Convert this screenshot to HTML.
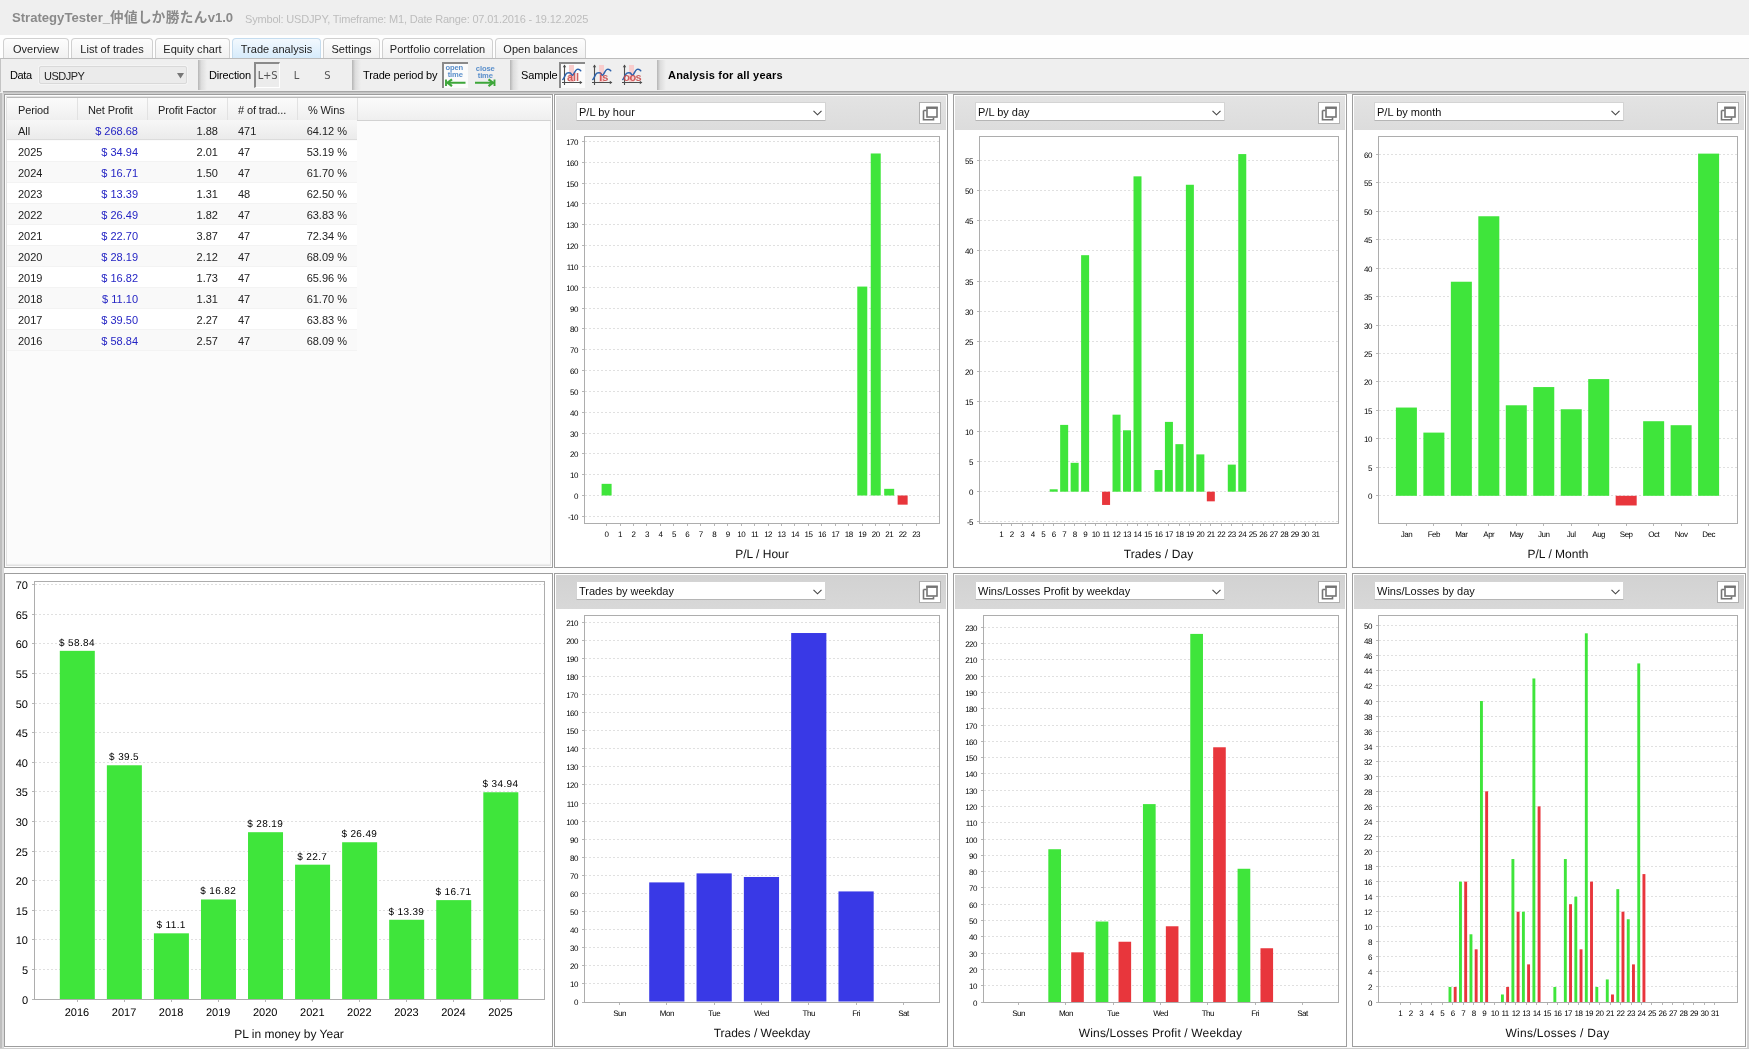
<!DOCTYPE html>
<html lang="ja">
<head>
<meta charset="utf-8">
<title>StrategyTester</title>
<style>
*{box-sizing:content-box;margin:0;padding:0}
html,body{width:1749px;height:1049px;overflow:hidden;background:#f0f0f0}
body{will-change:transform;position:relative;font-family:"Liberation Sans","Noto Sans CJK JP",sans-serif;font-size:11px;color:#111}
.abs{position:absolute}
#title{position:absolute;left:0;top:0;width:1749px;height:35px;background:#efefef}
#title b{position:absolute;left:12px;top:9px;font-size:13.1px;line-height:18px;color:#8a8a8a;white-space:nowrap}
#title b i{font-style:normal;font-size:13.6px;letter-spacing:.35px}
#title span{position:absolute;left:245px;top:11px;font-size:11px;line-height:16px;color:#bdbdbd;white-space:nowrap;letter-spacing:-.18px}
#tabs{position:absolute;left:0;top:35px;width:1749px;height:23px;background:#fefefe}
.tab{position:absolute;top:3px;height:19px;border:1px solid #d0d0d0;border-bottom:none;border-radius:4px 4px 0 0;background:linear-gradient(#fdfdfd,#f1f1f1);line-height:21px;text-align:center;font-size:11px;letter-spacing:.03px;color:#222;white-space:nowrap}
.tab.on{background:linear-gradient(#f3f9fe,#d6ebfb);border-color:#c5dcee}
#bar{position:absolute;left:0;top:58px;width:1747px;height:33px;background:#efefef;border-left:1px solid #c4c4c4;border-top:1px solid #bcbcbc;width:1748px}
#barb{position:absolute;left:3px;top:91px;width:1743px;height:1px;background:#a6a6a6}
#barb2{position:absolute;left:3px;top:92px;width:1743px;height:2px;background:linear-gradient(#bcbcbc,#d6d6d6)}
.lb{position:absolute;top:68px;line-height:14px;font-size:11px;letter-spacing:-.15px;color:#000;white-space:nowrap}
.sep{position:absolute;top:60px;width:9px;height:30px;background:linear-gradient(90deg,#b4b4b4,#dcdcdc 35%,#efefef)}
.tg{position:absolute;top:63px;height:24px;width:25px;line-height:26px;text-align:center;font-family:"DejaVu Sans","Liberation Sans",sans-serif;font-size:10px;color:#555}
.tg.on{top:62px;background:#ececec;border-top:2px solid #8a8a8a;border-left:2px solid #8a8a8a;border-right:1px solid #fff;border-bottom:1px solid #fff;height:23px;width:23px;line-height:24px;letter-spacing:-.2px}
.ic{position:absolute;top:63px;width:26px;height:25px}
.ic.on{background:#fbfbfb;box-shadow:inset 2px 1px 0 #8a8a8a,0 -1px 0 #8a8a8a}
.pan{position:absolute;border:1px solid #9d9d9d;background:#fff}
.hd{position:absolute;left:1px;top:1px;right:1px;height:34px;background:linear-gradient(#e3e3e3,#dcdcdc)}
.hd.dk{background:linear-gradient(#d2d2d2,#d8d8d8)}
.sel{position:absolute;left:20px;top:6px;width:248px;height:17px;background:#fff;border:1px solid #d4d4d4;border-bottom-color:#b5b5b5;border-radius:1px;font-size:11px;line-height:19px;color:#111}
.sel span{position:absolute;left:2px;top:0;white-space:nowrap}
.sel svg{position:absolute;right:3.5px;top:7px}
.pop{position:absolute;right:5px;top:6px;width:20px;height:20px;background:#fff;border:1px solid #b0b0b0}
.pop svg{position:absolute;left:2px;top:3px}
.ch{position:absolute;font-family:"Liberation Sans",sans-serif;shape-rendering:crispEdges}
.ch text{text-rendering:geometricPrecision}
.thbar{position:absolute;left:2px;top:2px;right:1px;height:22px;border-top:1px solid #b9b9b9;border-bottom:1px solid #d2d2d2;background:linear-gradient(#fbfbfb,#efefef)}
.th{position:absolute;top:3px;height:22px;line-height:24px;font-size:11px;color:#222;letter-spacing:-.12px;text-indent:10px;border-right:1px solid #e2e2e2;white-space:nowrap}
.tr{position:absolute;left:2px;width:350px;height:21px;line-height:22px;font-size:11px;color:#222;border-bottom:1px solid #f3f3f3;height:20px;background:#fff}
.tr.alt{background:#f9f9f9}
.tr.all{background:linear-gradient(#f7f7f7,#ebebeb);border-bottom-color:#dcdcdc;height:19px;line-height:22px}
.tr span{position:absolute;top:0;white-space:nowrap}
.c1{left:11px}.c2{right:219px;color:#2424c4}.c3{right:139px}.c4{left:231px}.c5{right:10px}
</style>
</head>
<body>
<div id="title"><b>StrategyTester_<i>仲値しか勝たん</i>v1.0</b><span>Symbol: USDJPY, Timeframe: M1, Date Range: 07.01.2016 - 19.12.2025</span></div>
<div id="tabs">
<div class="tab" style="left:3px;width:64px">Overview</div>
<div class="tab" style="left:71px;width:80px">List of trades</div>
<div class="tab" style="left:155px;width:73px">Equity chart</div>
<div class="tab on" style="left:232px;width:87px">Trade analysis</div>
<div class="tab" style="left:323px;width:55px">Settings</div>
<div class="tab" style="left:382px;width:109px">Portfolio correlation</div>
<div class="tab" style="left:495px;width:89px">Open balances</div>
</div>
<div class="abs" style="left:2px;top:93px;width:1745px;height:955px;background:#fdfdfd"></div>
<div id="bar"></div>
<div class="abs" style="left:0;top:93px;width:2px;height:956px;background:#bebebe"></div><div class="abs" style="left:2px;top:93px;width:2px;height:956px;background:#d8d8d8"></div><div id="barb"></div><div id="barb2"></div>
<div class="lb" style="left:10px;letter-spacing:-.4px">Data</div>
<div class="abs" style="left:39px;top:66px;width:146px;height:16px;border:1px solid #d9d9d9;background:#ebebeb;border-radius:2px;box-shadow:0 0 0 1px #f4f4f4"><span class="abs" style="left:4px;top:2px;line-height:14px;font-size:11px;letter-spacing:-.5px;color:#222">USDJPY</span><svg class="abs" style="left:137px;top:6px" width="7" height="6" viewBox="0 0 7 6"><path d="M0 0H7L3.5 5.5Z" fill="#777"/></svg></div>
<div class="sep" style="left:198px"></div>
<div class="lb" style="left:209px">Direction</div>
<div class="tg on" style="left:254px">L+S</div>
<div class="tg" style="left:284px">L</div>
<div class="tg" style="left:315px">S</div>
<div class="sep" style="left:352px"></div>
<div class="lb" style="left:363px">Trade period by</div>
<div class="ic on" style="left:442px"><svg width="26" height="25" viewBox="442 63 26 25"><g font-family="Liberation Sans,sans-serif" font-weight="bold" font-size="7.6" letter-spacing="-.15" fill="#5a8fcb" text-anchor="middle"><text x="454.2" y="69.8">open</text><text x="455.2" y="76.8">time</text></g><path d="M446 79.500V86M447 82.700H465.500" stroke="#3da63a" stroke-width="1.9" fill="none"/><path d="M452 79.300L447.500 82.700L452 86.200" stroke="#3da63a" stroke-width="2.2" fill="none"/></svg></div>
<div class="ic" style="left:472px"><svg width="26" height="25" viewBox="472 63 26 25"><g font-family="Liberation Sans,sans-serif" font-weight="bold" font-size="7.6" letter-spacing="-.15" fill="#5a8fcb" text-anchor="middle"><text x="485.2" y="71.200">close</text><text x="485.300" y="77.500">time</text></g><path d="M494.500 79.500V86M475 82.700H493.500" stroke="#3da63a" stroke-width="1.9" fill="none"/><path d="M488.500 79.300L493 82.700L488.500 86.200" stroke="#3da63a" stroke-width="2.2" fill="none"/></svg></div>
<div class="sep" style="left:510px"></div>
<div class="lb" style="left:521px">Sample</div>
<div class="ic on" style="left:559px"><svg width="27" height="25" viewBox="559 63 27 25"><rect x="569" y="65" width="5" height="17" fill="#f9cdcd"/><path d="M564.500 65V85M562 82.500H581.500" stroke="#4d4d4d" stroke-width="1.1" fill="none"/><path d="M562.800 67.200L564.500 64.600L566.200 67.200ZM579.800 80.800L582.400 82.500L579.800 84.200Z" fill="#4d4d4d"/><path d="M562.800 79.500C564.500 78 565.500 73 567.300 73C568.500 72.700 569.500 72.700 570.300 73C571.200 73.500 571.800 75.500 572.600 75.300C574 75 574.800 70 577 69.400C578.500 69 579.800 69.500 580.700 70.800" stroke="#2f63ad" stroke-width="1.5" fill="none" stroke-linecap="round"/><text x="566.9" y="80.600" font-size="11" letter-spacing="0" font-weight="bold" fill="#c94444" fill-opacity=".85" font-family="Liberation Sans,sans-serif">all</text></svg></div>
<div class="ic" style="left:589px"><svg width="27" height="25" viewBox="559 63 27 25"><rect x="569" y="65" width="5" height="17" fill="#f9cdcd"/><path d="M564.500 65V85M562 82.500H581.500" stroke="#4d4d4d" stroke-width="1.1" fill="none"/><path d="M562.800 67.200L564.500 64.600L566.200 67.200ZM579.800 80.800L582.400 82.500L579.800 84.200Z" fill="#4d4d4d"/><path d="M562.800 79.500C564.500 78 565.500 73 567.300 73C568.500 72.700 569.500 72.700 570.300 73C571.200 73.500 571.800 75.500 572.600 75.300C574 75 574.800 70 577 69.400C578.500 69 579.800 69.500 580.700 70.800" stroke="#2f63ad" stroke-width="1.5" fill="none" stroke-linecap="round"/><text x="569.3" y="80.600" font-size="11" letter-spacing="0" font-weight="bold" fill="#c94444" fill-opacity=".85" font-family="Liberation Sans,sans-serif">is</text></svg></div>
<div class="ic" style="left:619px"><svg width="27" height="25" viewBox="559 63 27 25"><rect x="569" y="65" width="5" height="17" fill="#f9cdcd"/><path d="M564.500 65V85M562 82.500H581.500" stroke="#4d4d4d" stroke-width="1.1" fill="none"/><path d="M562.800 67.200L564.500 64.600L566.200 67.200ZM579.800 80.800L582.400 82.500L579.800 84.200Z" fill="#4d4d4d"/><path d="M562.800 79.500C564.500 78 565.500 73 567.300 73C568.500 72.700 569.500 72.700 570.300 73C571.200 73.500 571.800 75.500 572.600 75.300C574 75 574.800 70 577 69.400C578.500 69 579.800 69.500 580.700 70.800" stroke="#2f63ad" stroke-width="1.5" fill="none" stroke-linecap="round"/><text x="563.3" y="80.600" font-size="11" letter-spacing="-0.6" font-weight="bold" fill="#c94444" fill-opacity=".85" font-family="Liberation Sans,sans-serif">oos</text></svg></div>
<div class="sep" style="left:657px"></div>
<div class="lb" style="left:668px;font-weight:bold;letter-spacing:.22px">Analysis for all years</div>
<div class="pan" style="left:554px;top:94px;width:392px;height:472px"><div class="hd "><div class="sel"><span>P/L by hour</span><svg width="9" height="6" viewBox="0 0 9 6"><path d="M.5 .8L4.5 4.8L8.5 .8" stroke="#444" stroke-width="1.1" fill="none"/></svg></div><div class="pop"><svg width="16" height="15" viewBox="0 0 16 15"><path d="M1.5 4.5H4.5M1.5 4.500V13.8H11.5V11.5" stroke="#747474" stroke-width="1.6" fill="none"/><rect x="5" y="2" width="10" height="9" fill="#fff" stroke="#747474" stroke-width="1.6"/><path d="M4.2 1.6H15.8" stroke="#747474" stroke-width="2.2"/></svg></div></div></div>
<svg class="ch" style="left:556px;top:130px" width="390" height="436" viewBox="556 130 390 436">
<rect x="584.5" y="136.5" width="355" height="387" fill="#fff" stroke="#adadad" stroke-width="1"/>
<path d="M585 516.5H939M585 495.5H939M585 474.5H939M585 453.5H939M585 433.5H939M585 412.5H939M585 391.5H939M585 370.5H939M585 349.5H939M585 328.5H939M585 308.5H939M585 287.5H939M585 266.5H939M585 245.5H939M585 224.5H939M585 203.5H939M585 183.5H939M585 162.5H939M585 141.5H939" stroke="#e0e0e0" stroke-width="1" stroke-dasharray="2 2" fill="none"/>
<path d="M582 516.5H584M582 495.5H584M582 474.5H584M582 453.5H584M582 433.5H584M582 412.5H584M582 391.5H584M582 370.5H584M582 349.5H584M582 328.5H584M582 308.5H584M582 287.5H584M582 266.5H584M582 245.5H584M582 224.5H584M582 203.5H584M582 183.5H584M582 162.5H584M582 141.5H584M606.5 524V526M620.5 524V526M633.5 524V526M646.5 524V526M660.5 524V526M673.5 524V526M687.5 524V526M700.5 524V526M714.5 524V526M727.5 524V526M741.5 524V526M754.5 524V526M768.5 524V526M781.5 524V526M794.5 524V526M808.5 524V526M821.5 524V526M835.5 524V526M848.5 524V526M862.5 524V526M875.5 524V526M889.5 524V526M902.5 524V526M916.5 524V526" stroke="#b6b6b6" stroke-width="1" fill="none"/>
<rect x="601.6" y="483.84" width="10" height="11.66" fill="#3fe53b" shape-rendering="auto"/>
<rect x="857.27" y="286.58" width="10" height="208.92" fill="#3fe53b" shape-rendering="auto"/>
<rect x="870.73" y="153.48" width="10" height="342.02" fill="#3fe53b" shape-rendering="auto"/>
<rect x="884.19" y="488.83" width="10" height="6.67" fill="#3fe53b" shape-rendering="auto"/>
<rect x="897.64" y="495.5" width="10" height="9.16" fill="#e8363c" shape-rendering="auto"/>
<g font-size="8" text-anchor="end" fill="#000" letter-spacing="-.5">
<text x="578" y="519.78">-10</text>
<text x="578" y="498.78">0</text>
<text x="578" y="477.78">10</text>
<text x="578" y="456.78">20</text>
<text x="578" y="436.78">30</text>
<text x="578" y="415.78">40</text>
<text x="578" y="394.78">50</text>
<text x="578" y="373.78">60</text>
<text x="578" y="352.78">70</text>
<text x="578" y="331.78">80</text>
<text x="578" y="311.78">90</text>
<text x="578" y="290.78">100</text>
<text x="578" y="269.78">110</text>
<text x="578" y="248.78">120</text>
<text x="578" y="227.78">130</text>
<text x="578" y="206.78">140</text>
<text x="578" y="186.78">150</text>
<text x="578" y="165.78">160</text>
<text x="578" y="144.78">170</text>
</g>
<g font-size="8" text-anchor="middle" fill="#000" letter-spacing="-.5">
<text x="606.6" y="537">0</text>
<text x="620.06" y="537">1</text>
<text x="633.51" y="537">2</text>
<text x="646.97" y="537">3</text>
<text x="660.43" y="537">4</text>
<text x="673.88" y="537">5</text>
<text x="687.34" y="537">6</text>
<text x="700.8" y="537">7</text>
<text x="714.25" y="537">8</text>
<text x="727.71" y="537">9</text>
<text x="741.17" y="537">10</text>
<text x="754.62" y="537">11</text>
<text x="768.08" y="537">12</text>
<text x="781.53" y="537">13</text>
<text x="794.99" y="537">14</text>
<text x="808.45" y="537">15</text>
<text x="821.9" y="537">16</text>
<text x="835.36" y="537">17</text>
<text x="848.82" y="537">18</text>
<text x="862.27" y="537">19</text>
<text x="875.73" y="537">20</text>
<text x="889.19" y="537">21</text>
<text x="902.64" y="537">22</text>
<text x="916.1" y="537">23</text>
</g>
<text x="762" y="558" font-size="12" letter-spacing="0" text-anchor="middle" fill="#111">P/L / Hour</text>
</svg>
<div class="pan" style="left:953px;top:94px;width:392px;height:472px"><div class="hd "><div class="sel"><span>P/L by day</span><svg width="9" height="6" viewBox="0 0 9 6"><path d="M.5 .8L4.5 4.8L8.5 .8" stroke="#444" stroke-width="1.1" fill="none"/></svg></div><div class="pop"><svg width="16" height="15" viewBox="0 0 16 15"><path d="M1.5 4.5H4.5M1.5 4.500V13.8H11.5V11.5" stroke="#747474" stroke-width="1.6" fill="none"/><rect x="5" y="2" width="10" height="9" fill="#fff" stroke="#747474" stroke-width="1.6"/><path d="M4.2 1.6H15.8" stroke="#747474" stroke-width="2.2"/></svg></div></div></div>
<svg class="ch" style="left:955px;top:130px" width="390" height="436" viewBox="955 130 390 436">
<rect x="979.5" y="136.5" width="359" height="387" fill="#fff" stroke="#adadad" stroke-width="1"/>
<path d="M980 521.5H1338M980 491.5H1338M980 461.5H1338M980 431.5H1338M980 401.5H1338M980 371.5H1338M980 341.5H1338M980 311.5H1338M980 281.5H1338M980 250.5H1338M980 220.5H1338M980 190.5H1338M980 160.5H1338" stroke="#e0e0e0" stroke-width="1" stroke-dasharray="2 2" fill="none"/>
<path d="M977 521.5H979M977 491.5H979M977 461.5H979M977 431.5H979M977 401.5H979M977 371.5H979M977 341.5H979M977 311.5H979M977 281.5H979M977 250.5H979M977 220.5H979M977 190.5H979M977 160.5H979M1001.5 524V526M1011.5 524V526M1022.5 524V526M1032.5 524V526M1043.5 524V526M1053.5 524V526M1064.5 524V526M1074.5 524V526M1085.5 524V526M1095.5 524V526M1106.5 524V526M1116.5 524V526M1127.5 524V526M1137.5 524V526M1147.5 524V526M1158.5 524V526M1168.5 524V526M1179.5 524V526M1189.5 524V526M1200.5 524V526M1210.5 524V526M1221.5 524V526M1231.5 524V526M1242.5 524V526M1252.5 524V526M1263.5 524V526M1273.5 524V526M1284.5 524V526M1294.5 524V526M1305.5 524V526M1315.5 524V526" stroke="#b6b6b6" stroke-width="1" fill="none"/>
<rect x="1049.68" y="489.29" width="8" height="2.41" fill="#3fe53b" shape-rendering="auto"/>
<rect x="1060.16" y="424.9" width="8" height="66.8" fill="#3fe53b" shape-rendering="auto"/>
<rect x="1070.64" y="462.81" width="8" height="28.89" fill="#3fe53b" shape-rendering="auto"/>
<rect x="1081.11" y="255.19" width="8" height="236.51" fill="#3fe53b" shape-rendering="auto"/>
<rect x="1102.07" y="491.7" width="8" height="13.24" fill="#e8363c" shape-rendering="auto"/>
<rect x="1112.54" y="414.67" width="8" height="77.03" fill="#3fe53b" shape-rendering="auto"/>
<rect x="1123.02" y="430.31" width="8" height="61.39" fill="#3fe53b" shape-rendering="auto"/>
<rect x="1133.5" y="176.35" width="8" height="315.35" fill="#3fe53b" shape-rendering="auto"/>
<rect x="1154.45" y="470.03" width="8" height="21.67" fill="#3fe53b" shape-rendering="auto"/>
<rect x="1164.93" y="421.89" width="8" height="69.81" fill="#3fe53b" shape-rendering="auto"/>
<rect x="1175.4" y="444.16" width="8" height="47.54" fill="#3fe53b" shape-rendering="auto"/>
<rect x="1185.88" y="184.77" width="8" height="306.93" fill="#3fe53b" shape-rendering="auto"/>
<rect x="1196.36" y="454.39" width="8" height="37.31" fill="#3fe53b" shape-rendering="auto"/>
<rect x="1206.83" y="491.7" width="8" height="9.63" fill="#e8363c" shape-rendering="auto"/>
<rect x="1227.79" y="464.62" width="8" height="27.08" fill="#3fe53b" shape-rendering="auto"/>
<rect x="1238.26" y="154.08" width="8" height="337.62" fill="#3fe53b" shape-rendering="auto"/>
<g font-size="8" text-anchor="end" fill="#000" letter-spacing="-.5">
<text x="973" y="524.78">-5</text>
<text x="973" y="494.78">0</text>
<text x="973" y="464.78">5</text>
<text x="973" y="434.78">10</text>
<text x="973" y="404.78">15</text>
<text x="973" y="374.78">20</text>
<text x="973" y="344.78">25</text>
<text x="973" y="314.78">30</text>
<text x="973" y="284.78">35</text>
<text x="973" y="253.78">40</text>
<text x="973" y="223.78">45</text>
<text x="973" y="193.78">50</text>
<text x="973" y="163.78">55</text>
</g>
<g font-size="8" text-anchor="middle" fill="#000" letter-spacing="-.5">
<text x="1001.3" y="537">1</text>
<text x="1011.78" y="537">2</text>
<text x="1022.25" y="537">3</text>
<text x="1032.73" y="537">4</text>
<text x="1043.21" y="537">5</text>
<text x="1053.68" y="537">6</text>
<text x="1064.16" y="537">7</text>
<text x="1074.64" y="537">8</text>
<text x="1085.11" y="537">9</text>
<text x="1095.59" y="537">10</text>
<text x="1106.07" y="537">11</text>
<text x="1116.54" y="537">12</text>
<text x="1127.02" y="537">13</text>
<text x="1137.5" y="537">14</text>
<text x="1147.97" y="537">15</text>
<text x="1158.45" y="537">16</text>
<text x="1168.93" y="537">17</text>
<text x="1179.4" y="537">18</text>
<text x="1189.88" y="537">19</text>
<text x="1200.36" y="537">20</text>
<text x="1210.83" y="537">21</text>
<text x="1221.31" y="537">22</text>
<text x="1231.79" y="537">23</text>
<text x="1242.26" y="537">24</text>
<text x="1252.74" y="537">25</text>
<text x="1263.22" y="537">26</text>
<text x="1273.69" y="537">27</text>
<text x="1284.17" y="537">28</text>
<text x="1294.65" y="537">29</text>
<text x="1305.12" y="537">30</text>
<text x="1315.6" y="537">31</text>
</g>
<text x="1158.5" y="558" font-size="12" letter-spacing="0.12" text-anchor="middle" fill="#111">Trades / Day</text>
</svg>
<div class="pan" style="left:1352px;top:94px;width:392px;height:472px"><div class="hd "><div class="sel"><span>P/L by month</span><svg width="9" height="6" viewBox="0 0 9 6"><path d="M.5 .8L4.5 4.8L8.5 .8" stroke="#444" stroke-width="1.1" fill="none"/></svg></div><div class="pop"><svg width="16" height="15" viewBox="0 0 16 15"><path d="M1.5 4.5H4.5M1.5 4.500V13.8H11.5V11.5" stroke="#747474" stroke-width="1.6" fill="none"/><rect x="5" y="2" width="10" height="9" fill="#fff" stroke="#747474" stroke-width="1.6"/><path d="M4.2 1.6H15.8" stroke="#747474" stroke-width="2.2"/></svg></div></div></div>
<svg class="ch" style="left:1354px;top:130px" width="390" height="436" viewBox="1354 130 390 436">
<rect x="1378.5" y="136.5" width="359" height="387" fill="#fff" stroke="#adadad" stroke-width="1"/>
<path d="M1379 495.5H1737M1379 467.5H1737M1379 438.5H1737M1379 410.5H1737M1379 381.5H1737M1379 353.5H1737M1379 325.5H1737M1379 296.5H1737M1379 268.5H1737M1379 239.5H1737M1379 211.5H1737M1379 182.5H1737M1379 154.5H1737" stroke="#e0e0e0" stroke-width="1" stroke-dasharray="2 2" fill="none"/>
<path d="M1376 495.5H1378M1376 467.5H1378M1376 438.5H1378M1376 410.5H1378M1376 381.5H1378M1376 353.5H1378M1376 325.5H1378M1376 296.5H1378M1376 268.5H1378M1376 239.5H1378M1376 211.5H1378M1376 182.5H1378M1376 154.5H1378M1406.5 524V526M1433.5 524V526M1461.5 524V526M1488.5 524V526M1516.5 524V526M1543.5 524V526M1571.5 524V526M1598.5 524V526M1626.5 524V526M1653.5 524V526M1681.5 524V526M1708.5 524V526" stroke="#b6b6b6" stroke-width="1" fill="none"/>
<rect x="1395.9" y="407.55" width="21" height="88.25" fill="#3fe53b" shape-rendering="auto"/>
<rect x="1423.37" y="432.6" width="21" height="63.2" fill="#3fe53b" shape-rendering="auto"/>
<rect x="1450.85" y="281.73" width="21" height="214.07" fill="#3fe53b" shape-rendering="auto"/>
<rect x="1478.32" y="216.26" width="21" height="279.54" fill="#3fe53b" shape-rendering="auto"/>
<rect x="1505.79" y="405.28" width="21" height="90.52" fill="#3fe53b" shape-rendering="auto"/>
<rect x="1533.26" y="387.06" width="21" height="108.74" fill="#3fe53b" shape-rendering="auto"/>
<rect x="1560.74" y="409.26" width="21" height="86.54" fill="#3fe53b" shape-rendering="auto"/>
<rect x="1588.21" y="379.09" width="21" height="116.71" fill="#3fe53b" shape-rendering="auto"/>
<rect x="1615.68" y="495.8" width="21" height="9.68" fill="#e8363c" shape-rendering="auto"/>
<rect x="1643.15" y="421.22" width="21" height="74.58" fill="#3fe53b" shape-rendering="auto"/>
<rect x="1670.63" y="425.2" width="21" height="70.6" fill="#3fe53b" shape-rendering="auto"/>
<rect x="1698.1" y="153.63" width="21" height="342.17" fill="#3fe53b" shape-rendering="auto"/>
<g font-size="8" text-anchor="end" fill="#000" letter-spacing="-.5">
<text x="1372" y="498.78">0</text>
<text x="1372" y="470.78">5</text>
<text x="1372" y="441.78">10</text>
<text x="1372" y="413.78">15</text>
<text x="1372" y="384.78">20</text>
<text x="1372" y="356.78">25</text>
<text x="1372" y="328.78">30</text>
<text x="1372" y="299.78">35</text>
<text x="1372" y="271.78">40</text>
<text x="1372" y="242.78">45</text>
<text x="1372" y="214.78">50</text>
<text x="1372" y="185.78">55</text>
<text x="1372" y="157.78">60</text>
</g>
<g font-size="8" text-anchor="middle" fill="#000" letter-spacing="-.5">
<text x="1406.4" y="537">Jan</text>
<text x="1433.87" y="537">Feb</text>
<text x="1461.35" y="537">Mar</text>
<text x="1488.82" y="537">Apr</text>
<text x="1516.29" y="537">May</text>
<text x="1543.76" y="537">Jun</text>
<text x="1571.24" y="537">Jul</text>
<text x="1598.71" y="537">Aug</text>
<text x="1626.18" y="537">Sep</text>
<text x="1653.65" y="537">Oct</text>
<text x="1681.13" y="537">Nov</text>
<text x="1708.6" y="537">Dec</text>
</g>
<text x="1558" y="558" font-size="12" letter-spacing="0" text-anchor="middle" fill="#111">P/L / Month</text>
</svg>
<div class="pan" style="left:554px;top:573px;width:392px;height:472px"><div class="hd dk"><div class="sel"><span>Trades by weekday</span><svg width="9" height="6" viewBox="0 0 9 6"><path d="M.5 .8L4.5 4.8L8.5 .8" stroke="#444" stroke-width="1.1" fill="none"/></svg></div><div class="pop"><svg width="16" height="15" viewBox="0 0 16 15"><path d="M1.5 4.5H4.5M1.5 4.500V13.8H11.5V11.5" stroke="#747474" stroke-width="1.6" fill="none"/><rect x="5" y="2" width="10" height="9" fill="#fff" stroke="#747474" stroke-width="1.6"/><path d="M4.2 1.6H15.8" stroke="#747474" stroke-width="2.2"/></svg></div></div></div>
<svg class="ch" style="left:556px;top:609px" width="390" height="436" viewBox="556 609 390 436">
<rect x="584.5" y="615.5" width="355" height="387" fill="#fff" stroke="#adadad" stroke-width="1"/>
<path d="M585 983.5H939M585 965.5H939M585 947.5H939M585 929.5H939M585 911.5H939M585 893.5H939M585 875.5H939M585 857.5H939M585 839.5H939M585 821.5H939M585 803.5H939M585 784.5H939M585 766.5H939M585 748.5H939M585 730.5H939M585 712.5H939M585 694.5H939M585 676.5H939M585 658.5H939M585 640.5H939M585 622.5H939" stroke="#e0e0e0" stroke-width="1" stroke-dasharray="2 2" fill="none"/>
<path d="M582 1002.5H584M582 983.5H584M582 965.5H584M582 947.5H584M582 929.5H584M582 911.5H584M582 893.5H584M582 875.5H584M582 857.5H584M582 839.5H584M582 821.5H584M582 803.5H584M582 784.5H584M582 766.5H584M582 748.5H584M582 730.5H584M582 712.5H584M582 694.5H584M582 676.5H584M582 658.5H584M582 640.5H584M582 622.5H584M619.5 1003V1005M666.5 1003V1005M714.5 1003V1005M761.5 1003V1005M808.5 1003V1005M856.5 1003V1005M903.5 1003V1005" stroke="#b6b6b6" stroke-width="1" fill="none"/>
<rect x="649.22" y="882.4" width="35.2" height="119.1" fill="#3939e6" shape-rendering="auto"/>
<rect x="696.53" y="873.38" width="35.2" height="128.12" fill="#3939e6" shape-rendering="auto"/>
<rect x="743.85" y="876.99" width="35.2" height="124.51" fill="#3939e6" shape-rendering="auto"/>
<rect x="791.17" y="633.02" width="35.2" height="368.48" fill="#3939e6" shape-rendering="auto"/>
<rect x="838.48" y="891.43" width="35.2" height="110.07" fill="#3939e6" shape-rendering="auto"/>
<g font-size="8" text-anchor="end" fill="#000" letter-spacing="-.5">
<text x="578" y="1004.78">0</text>
<text x="578" y="986.78">10</text>
<text x="578" y="968.78">20</text>
<text x="578" y="950.78">30</text>
<text x="578" y="932.78">40</text>
<text x="578" y="914.78">50</text>
<text x="578" y="896.78">60</text>
<text x="578" y="878.78">70</text>
<text x="578" y="860.78">80</text>
<text x="578" y="842.78">90</text>
<text x="578" y="824.78">100</text>
<text x="578" y="806.78">110</text>
<text x="578" y="787.78">120</text>
<text x="578" y="769.78">130</text>
<text x="578" y="751.78">140</text>
<text x="578" y="733.78">150</text>
<text x="578" y="715.78">160</text>
<text x="578" y="697.78">170</text>
<text x="578" y="679.78">180</text>
<text x="578" y="661.78">190</text>
<text x="578" y="643.78">200</text>
<text x="578" y="625.78">210</text>
</g>
<g font-size="8" text-anchor="middle" fill="#000" letter-spacing="-.5">
<text x="619.5" y="1016">Sun</text>
<text x="666.82" y="1016">Mon</text>
<text x="714.13" y="1016">Tue</text>
<text x="761.45" y="1016">Wed</text>
<text x="808.77" y="1016">Thu</text>
<text x="856.08" y="1016">Fri</text>
<text x="903.4" y="1016">Sat</text>
</g>
<text x="762" y="1037" font-size="12" letter-spacing="0" text-anchor="middle" fill="#111">Trades / Weekday</text>
</svg>
<div class="pan" style="left:953px;top:573px;width:392px;height:472px"><div class="hd dk"><div class="sel"><span>Wins/Losses Profit by weekday</span><svg width="9" height="6" viewBox="0 0 9 6"><path d="M.5 .8L4.5 4.8L8.5 .8" stroke="#444" stroke-width="1.1" fill="none"/></svg></div><div class="pop"><svg width="16" height="15" viewBox="0 0 16 15"><path d="M1.5 4.5H4.5M1.5 4.500V13.8H11.5V11.5" stroke="#747474" stroke-width="1.6" fill="none"/><rect x="5" y="2" width="10" height="9" fill="#fff" stroke="#747474" stroke-width="1.6"/><path d="M4.2 1.6H15.8" stroke="#747474" stroke-width="2.2"/></svg></div></div></div>
<svg class="ch" style="left:955px;top:609px" width="390" height="436" viewBox="955 609 390 436">
<rect x="983.5" y="615.5" width="355" height="387" fill="#fff" stroke="#adadad" stroke-width="1"/>
<path d="M984 985.5H1338M984 969.5H1338M984 953.5H1338M984 936.5H1338M984 920.5H1338M984 904.5H1338M984 887.5H1338M984 871.5H1338M984 855.5H1338M984 839.5H1338M984 822.5H1338M984 806.5H1338M984 790.5H1338M984 773.5H1338M984 757.5H1338M984 741.5H1338M984 725.5H1338M984 708.5H1338M984 692.5H1338M984 676.5H1338M984 659.5H1338M984 643.5H1338M984 627.5H1338" stroke="#e0e0e0" stroke-width="1" stroke-dasharray="2 2" fill="none"/>
<path d="M981 1002.5H983M981 985.5H983M981 969.5H983M981 953.5H983M981 936.5H983M981 920.5H983M981 904.5H983M981 887.5H983M981 871.5H983M981 855.5H983M981 839.5H983M981 822.5H983M981 806.5H983M981 790.5H983M981 773.5H983M981 757.5H983M981 741.5H983M981 725.5H983M981 708.5H983M981 692.5H983M981 676.5H983M981 659.5H983M981 643.5H983M981 627.5H983M1018.5 1003V1005M1065.5 1003V1005M1113.5 1003V1005M1160.5 1003V1005M1207.5 1003V1005M1255.5 1003V1005M1302.5 1003V1005" stroke="#b6b6b6" stroke-width="1" fill="none"/>
<rect x="1048.32" y="849.23" width="12.7" height="152.77" fill="#3fe53b" shape-rendering="auto"/>
<rect x="1071.22" y="952.32" width="12.6" height="49.68" fill="#e8363c" shape-rendering="auto"/>
<rect x="1095.63" y="921.54" width="12.7" height="80.46" fill="#3fe53b" shape-rendering="auto"/>
<rect x="1118.53" y="941.74" width="12.6" height="60.26" fill="#e8363c" shape-rendering="auto"/>
<rect x="1142.95" y="804.11" width="12.7" height="197.89" fill="#3fe53b" shape-rendering="auto"/>
<rect x="1165.85" y="926.27" width="12.6" height="75.73" fill="#e8363c" shape-rendering="auto"/>
<rect x="1190.27" y="633.91" width="12.7" height="368.09" fill="#3fe53b" shape-rendering="auto"/>
<rect x="1213.17" y="747.27" width="12.6" height="254.73" fill="#e8363c" shape-rendering="auto"/>
<rect x="1237.58" y="868.77" width="12.7" height="133.23" fill="#3fe53b" shape-rendering="auto"/>
<rect x="1260.48" y="948.25" width="12.6" height="53.75" fill="#e8363c" shape-rendering="auto"/>
<g font-size="8" text-anchor="end" fill="#000" letter-spacing="-.5">
<text x="977" y="1005.78">0</text>
<text x="977" y="988.78">10</text>
<text x="977" y="972.78">20</text>
<text x="977" y="956.78">30</text>
<text x="977" y="939.78">40</text>
<text x="977" y="923.78">50</text>
<text x="977" y="907.78">60</text>
<text x="977" y="890.78">70</text>
<text x="977" y="874.78">80</text>
<text x="977" y="858.78">90</text>
<text x="977" y="842.78">100</text>
<text x="977" y="825.78">110</text>
<text x="977" y="809.78">120</text>
<text x="977" y="793.78">130</text>
<text x="977" y="776.78">140</text>
<text x="977" y="760.78">150</text>
<text x="977" y="744.78">160</text>
<text x="977" y="728.78">170</text>
<text x="977" y="711.78">180</text>
<text x="977" y="695.78">190</text>
<text x="977" y="679.78">200</text>
<text x="977" y="662.78">210</text>
<text x="977" y="646.78">220</text>
<text x="977" y="630.78">230</text>
</g>
<g font-size="8" text-anchor="middle" fill="#000" letter-spacing="-.5">
<text x="1018.6" y="1016">Sun</text>
<text x="1065.92" y="1016">Mon</text>
<text x="1113.23" y="1016">Tue</text>
<text x="1160.55" y="1016">Wed</text>
<text x="1207.87" y="1016">Thu</text>
<text x="1255.18" y="1016">Fri</text>
<text x="1302.5" y="1016">Sat</text>
</g>
<text x="1160.5" y="1037" font-size="12" letter-spacing="0.15" text-anchor="middle" fill="#111">Wins/Losses Profit / Weekday</text>
</svg>
<div class="pan" style="left:1352px;top:573px;width:392px;height:472px"><div class="hd dk"><div class="sel"><span>Wins/Losses by day</span><svg width="9" height="6" viewBox="0 0 9 6"><path d="M.5 .8L4.5 4.8L8.5 .8" stroke="#444" stroke-width="1.1" fill="none"/></svg></div><div class="pop"><svg width="16" height="15" viewBox="0 0 16 15"><path d="M1.5 4.5H4.5M1.5 4.500V13.8H11.5V11.5" stroke="#747474" stroke-width="1.6" fill="none"/><rect x="5" y="2" width="10" height="9" fill="#fff" stroke="#747474" stroke-width="1.6"/><path d="M4.2 1.6H15.8" stroke="#747474" stroke-width="2.2"/></svg></div></div></div>
<svg class="ch" style="left:1354px;top:609px" width="390" height="436" viewBox="1354 609 390 436">
<rect x="1378.5" y="615.5" width="359" height="387" fill="#fff" stroke="#adadad" stroke-width="1"/>
<path d="M1379 986.5H1737M1379 971.5H1737M1379 956.5H1737M1379 941.5H1737M1379 926.5H1737M1379 911.5H1737M1379 896.5H1737M1379 881.5H1737M1379 866.5H1737M1379 851.5H1737M1379 836.5H1737M1379 821.5H1737M1379 806.5H1737M1379 791.5H1737M1379 776.5H1737M1379 761.5H1737M1379 746.5H1737M1379 731.5H1737M1379 716.5H1737M1379 701.5H1737M1379 685.5H1737M1379 670.5H1737M1379 655.5H1737M1379 640.5H1737M1379 625.5H1737" stroke="#e0e0e0" stroke-width="1" stroke-dasharray="2 2" fill="none"/>
<path d="M1376 1002.5H1378M1376 986.5H1378M1376 971.5H1378M1376 956.5H1378M1376 941.5H1378M1376 926.5H1378M1376 911.5H1378M1376 896.5H1378M1376 881.5H1378M1376 866.5H1378M1376 851.5H1378M1376 836.5H1378M1376 821.5H1378M1376 806.5H1378M1376 791.5H1378M1376 776.5H1378M1376 761.5H1378M1376 746.5H1378M1376 731.5H1378M1376 716.5H1378M1376 701.5H1378M1376 685.5H1378M1376 670.5H1378M1376 655.5H1378M1376 640.5H1378M1376 625.5H1378M1400.5 1003V1005M1410.5 1003V1005M1421.5 1003V1005M1431.5 1003V1005M1442.5 1003V1005M1452.5 1003V1005M1463.5 1003V1005M1473.5 1003V1005M1484.5 1003V1005M1494.5 1003V1005M1505.5 1003V1005M1515.5 1003V1005M1526.5 1003V1005M1536.5 1003V1005M1547.5 1003V1005M1557.5 1003V1005M1568.5 1003V1005M1578.5 1003V1005M1589.5 1003V1005M1599.5 1003V1005M1610.5 1003V1005M1620.5 1003V1005M1631.5 1003V1005M1641.5 1003V1005M1651.5 1003V1005M1662.5 1003V1005M1672.5 1003V1005M1683.5 1003V1005M1693.5 1003V1005M1704.5 1003V1005M1714.5 1003V1005" stroke="#b6b6b6" stroke-width="1" fill="none"/>
<rect x="1448.53" y="986.95" width="2.9" height="15.05" fill="#3fe53b" shape-rendering="auto"/>
<rect x="1453.73" y="986.95" width="2.9" height="15.05" fill="#e8363c" shape-rendering="auto"/>
<rect x="1459.02" y="881.62" width="2.9" height="120.38" fill="#3fe53b" shape-rendering="auto"/>
<rect x="1464.22" y="881.62" width="2.9" height="120.38" fill="#e8363c" shape-rendering="auto"/>
<rect x="1469.51" y="934.28" width="2.9" height="67.72" fill="#3fe53b" shape-rendering="auto"/>
<rect x="1474.71" y="949.33" width="2.9" height="52.67" fill="#e8363c" shape-rendering="auto"/>
<rect x="1479.99" y="701.04" width="2.9" height="300.96" fill="#3fe53b" shape-rendering="auto"/>
<rect x="1485.19" y="791.33" width="2.9" height="210.67" fill="#e8363c" shape-rendering="auto"/>
<rect x="1500.97" y="994.48" width="2.9" height="7.52" fill="#3fe53b" shape-rendering="auto"/>
<rect x="1506.17" y="986.95" width="2.9" height="15.05" fill="#e8363c" shape-rendering="auto"/>
<rect x="1511.45" y="859.04" width="2.9" height="142.96" fill="#3fe53b" shape-rendering="auto"/>
<rect x="1516.65" y="911.71" width="2.9" height="90.29" fill="#e8363c" shape-rendering="auto"/>
<rect x="1521.94" y="911.71" width="2.9" height="90.29" fill="#3fe53b" shape-rendering="auto"/>
<rect x="1527.14" y="964.38" width="2.9" height="37.62" fill="#e8363c" shape-rendering="auto"/>
<rect x="1532.43" y="678.47" width="2.9" height="323.53" fill="#3fe53b" shape-rendering="auto"/>
<rect x="1537.63" y="806.38" width="2.9" height="195.62" fill="#e8363c" shape-rendering="auto"/>
<rect x="1553.4" y="986.95" width="2.9" height="15.05" fill="#3fe53b" shape-rendering="auto"/>
<rect x="1563.89" y="859.04" width="2.9" height="142.96" fill="#3fe53b" shape-rendering="auto"/>
<rect x="1569.09" y="904.19" width="2.9" height="97.81" fill="#e8363c" shape-rendering="auto"/>
<rect x="1574.37" y="896.66" width="2.9" height="105.34" fill="#3fe53b" shape-rendering="auto"/>
<rect x="1579.57" y="949.33" width="2.9" height="52.67" fill="#e8363c" shape-rendering="auto"/>
<rect x="1584.86" y="633.32" width="2.9" height="368.68" fill="#3fe53b" shape-rendering="auto"/>
<rect x="1590.06" y="881.62" width="2.9" height="120.38" fill="#e8363c" shape-rendering="auto"/>
<rect x="1595.35" y="986.95" width="2.9" height="15.05" fill="#3fe53b" shape-rendering="auto"/>
<rect x="1605.83" y="979.43" width="2.9" height="22.57" fill="#3fe53b" shape-rendering="auto"/>
<rect x="1611.03" y="994.48" width="2.9" height="7.52" fill="#e8363c" shape-rendering="auto"/>
<rect x="1616.32" y="889.14" width="2.9" height="112.86" fill="#3fe53b" shape-rendering="auto"/>
<rect x="1621.52" y="911.71" width="2.9" height="90.29" fill="#e8363c" shape-rendering="auto"/>
<rect x="1626.81" y="919.24" width="2.9" height="82.76" fill="#3fe53b" shape-rendering="auto"/>
<rect x="1632.01" y="964.38" width="2.9" height="37.62" fill="#e8363c" shape-rendering="auto"/>
<rect x="1637.29" y="663.42" width="2.9" height="338.58" fill="#3fe53b" shape-rendering="auto"/>
<rect x="1642.49" y="874.09" width="2.9" height="127.91" fill="#e8363c" shape-rendering="auto"/>
<g font-size="8" text-anchor="end" fill="#000" letter-spacing="-.5">
<text x="1372" y="1005.78">0</text>
<text x="1372" y="989.78">2</text>
<text x="1372" y="974.78">4</text>
<text x="1372" y="959.78">6</text>
<text x="1372" y="944.78">8</text>
<text x="1372" y="929.78">10</text>
<text x="1372" y="914.78">12</text>
<text x="1372" y="899.78">14</text>
<text x="1372" y="884.78">16</text>
<text x="1372" y="869.78">18</text>
<text x="1372" y="854.78">20</text>
<text x="1372" y="839.78">22</text>
<text x="1372" y="824.78">24</text>
<text x="1372" y="809.78">26</text>
<text x="1372" y="794.78">28</text>
<text x="1372" y="779.78">30</text>
<text x="1372" y="764.78">32</text>
<text x="1372" y="749.78">34</text>
<text x="1372" y="734.78">36</text>
<text x="1372" y="719.78">38</text>
<text x="1372" y="704.78">40</text>
<text x="1372" y="688.78">42</text>
<text x="1372" y="673.78">44</text>
<text x="1372" y="658.78">46</text>
<text x="1372" y="643.78">48</text>
<text x="1372" y="628.78">50</text>
</g>
<g font-size="8" text-anchor="middle" fill="#000" letter-spacing="-.5">
<text x="1400.3" y="1016">1</text>
<text x="1410.79" y="1016">2</text>
<text x="1421.27" y="1016">3</text>
<text x="1431.76" y="1016">4</text>
<text x="1442.25" y="1016">5</text>
<text x="1452.73" y="1016">6</text>
<text x="1463.22" y="1016">7</text>
<text x="1473.71" y="1016">8</text>
<text x="1484.19" y="1016">9</text>
<text x="1494.68" y="1016">10</text>
<text x="1505.17" y="1016">11</text>
<text x="1515.65" y="1016">12</text>
<text x="1526.14" y="1016">13</text>
<text x="1536.63" y="1016">14</text>
<text x="1547.11" y="1016">15</text>
<text x="1557.6" y="1016">16</text>
<text x="1568.09" y="1016">17</text>
<text x="1578.57" y="1016">18</text>
<text x="1589.06" y="1016">19</text>
<text x="1599.55" y="1016">20</text>
<text x="1610.03" y="1016">21</text>
<text x="1620.52" y="1016">22</text>
<text x="1631.01" y="1016">23</text>
<text x="1641.49" y="1016">24</text>
<text x="1651.98" y="1016">25</text>
<text x="1662.47" y="1016">26</text>
<text x="1672.95" y="1016">27</text>
<text x="1683.44" y="1016">28</text>
<text x="1693.93" y="1016">29</text>
<text x="1704.41" y="1016">30</text>
<text x="1714.9" y="1016">31</text>
</g>
<text x="1557.5" y="1037" font-size="12" letter-spacing="0.27" text-anchor="middle" fill="#111">Wins/Losses / Day</text>
</svg>
<div class="pan" style="left:4px;top:573px;width:547px;height:472px"></div>
<svg class="ch" style="left:6px;top:575px" width="544" height="470" viewBox="6 575 544 470">
<rect x="34.5" y="581.5" width="510" height="418" fill="#fff" stroke="#adadad" stroke-width="1"/>
<path d="M35 969.5H544M35 939.5H544M35 910.5H544M35 880.5H544M35 851.5H544M35 821.5H544M35 791.5H544M35 762.5H544M35 732.5H544M35 703.5H544M35 673.5H544M35 643.5H544M35 614.5H544M35 584.5H544" stroke="#e0e0e0" stroke-width="1" stroke-dasharray="2 2" fill="none"/>
<path d="M32 999.5H34M32 969.5H34M32 939.5H34M32 910.5H34M32 880.5H34M32 851.5H34M32 821.5H34M32 791.5H34M32 762.5H34M32 732.5H34M32 703.5H34M32 673.5H34M32 643.5H34M32 614.5H34M32 584.5H34M77.5 1000V1002M124.5 1000V1002M171.5 1000V1002M218.5 1000V1002M265.5 1000V1002M312.5 1000V1002M359.5 1000V1002M406.5 1000V1002M453.5 1000V1002M500.5 1000V1002" stroke="#b6b6b6" stroke-width="1" fill="none"/>
<rect x="59.8" y="650.84" width="35" height="348.16" fill="#3fe53b" shape-rendering="auto"/>
<rect x="106.86" y="765.27" width="35" height="233.73" fill="#3fe53b" shape-rendering="auto"/>
<rect x="153.91" y="933.32" width="35" height="65.68" fill="#3fe53b" shape-rendering="auto"/>
<rect x="200.97" y="899.47" width="35" height="99.53" fill="#3fe53b" shape-rendering="auto"/>
<rect x="248.02" y="832.2" width="35" height="166.8" fill="#3fe53b" shape-rendering="auto"/>
<rect x="295.08" y="864.68" width="35" height="134.32" fill="#3fe53b" shape-rendering="auto"/>
<rect x="342.13" y="842.25" width="35" height="156.75" fill="#3fe53b" shape-rendering="auto"/>
<rect x="389.19" y="919.77" width="35" height="79.23" fill="#3fe53b" shape-rendering="auto"/>
<rect x="436.24" y="900.12" width="35" height="98.88" fill="#3fe53b" shape-rendering="auto"/>
<rect x="483.3" y="792.26" width="35" height="206.74" fill="#3fe53b" shape-rendering="auto"/>
<g font-size="11" text-anchor="end" fill="#000">
<text x="28" y="1003.86">0</text>
<text x="28" y="973.86">5</text>
<text x="28" y="943.86">10</text>
<text x="28" y="914.86">15</text>
<text x="28" y="884.86">20</text>
<text x="28" y="855.86">25</text>
<text x="28" y="825.86">30</text>
<text x="28" y="795.86">35</text>
<text x="28" y="766.86">40</text>
<text x="28" y="736.86">45</text>
<text x="28" y="707.86">50</text>
<text x="28" y="677.86">55</text>
<text x="28" y="647.86">60</text>
<text x="28" y="618.86">65</text>
<text x="28" y="588.86">70</text>
</g>
<g font-size="11" text-anchor="middle" fill="#000">
<text x="77" y="1016">2016</text>
<text x="124.06" y="1016">2017</text>
<text x="171.11" y="1016">2018</text>
<text x="218.17" y="1016">2019</text>
<text x="265.22" y="1016">2020</text>
<text x="312.28" y="1016">2021</text>
<text x="359.33" y="1016">2022</text>
<text x="406.39" y="1016">2023</text>
<text x="453.44" y="1016">2024</text>
<text x="500.5" y="1016">2025</text>
</g>
<g font-size="10" letter-spacing=".35" text-anchor="middle" fill="#000">
<text x="77" y="645.84">$ 58.84</text>
<text x="124.06" y="760.27">$ 39.5</text>
<text x="171.11" y="928.32">$ 11.1</text>
<text x="218.17" y="894.47">$ 16.82</text>
<text x="265.22" y="827.2">$ 28.19</text>
<text x="312.28" y="859.68">$ 22.7</text>
<text x="359.33" y="837.25">$ 26.49</text>
<text x="406.39" y="914.77">$ 13.39</text>
<text x="453.44" y="895.12">$ 16.71</text>
<text x="500.5" y="787.26">$ 34.94</text>
</g>
<text x="289" y="1038" font-size="12" letter-spacing="0" text-anchor="middle" fill="#111">PL in money by Year</text>
</svg>
<div class="pan" style="left:4px;top:94px;width:547px;height:472px;background:#fbfbfb;box-shadow:inset 0 0 0 1px #fdfdfd,inset 0 0 0 2px #e2e2e2,inset 0 -3px 1px #ececec">
<div class="thbar"></div>
<div class="th" style="left:3px;width:69px">Period</div>
<div class="th" style="left:73px;width:69px">Net Profit</div>
<div class="th" style="left:143px;width:79px">Profit Factor</div>
<div class="th" style="left:223px;width:69px"># of trad...</div>
<div class="th" style="left:293px;width:59px">% Wins</div>
<div class="tr all" style="top:25px"><span class="c1">All</span><span class="c2">$ 268.68</span><span class="c3">1.88</span><span class="c4">471</span><span class="c5">64.12 %</span></div>
<div class="tr" style="top:46px"><span class="c1">2025</span><span class="c2">$ 34.94</span><span class="c3">2.01</span><span class="c4">47</span><span class="c5">53.19 %</span></div>
<div class="tr alt" style="top:67px"><span class="c1">2024</span><span class="c2">$ 16.71</span><span class="c3">1.50</span><span class="c4">47</span><span class="c5">61.70 %</span></div>
<div class="tr" style="top:88px"><span class="c1">2023</span><span class="c2">$ 13.39</span><span class="c3">1.31</span><span class="c4">48</span><span class="c5">62.50 %</span></div>
<div class="tr alt" style="top:109px"><span class="c1">2022</span><span class="c2">$ 26.49</span><span class="c3">1.82</span><span class="c4">47</span><span class="c5">63.83 %</span></div>
<div class="tr" style="top:130px"><span class="c1">2021</span><span class="c2">$ 22.70</span><span class="c3">3.87</span><span class="c4">47</span><span class="c5">72.34 %</span></div>
<div class="tr alt" style="top:151px"><span class="c1">2020</span><span class="c2">$ 28.19</span><span class="c3">2.12</span><span class="c4">47</span><span class="c5">68.09 %</span></div>
<div class="tr" style="top:172px"><span class="c1">2019</span><span class="c2">$ 16.82</span><span class="c3">1.73</span><span class="c4">47</span><span class="c5">65.96 %</span></div>
<div class="tr alt" style="top:193px"><span class="c1">2018</span><span class="c2">$ 11.10</span><span class="c3">1.31</span><span class="c4">47</span><span class="c5">61.70 %</span></div>
<div class="tr" style="top:214px"><span class="c1">2017</span><span class="c2">$ 39.50</span><span class="c3">2.27</span><span class="c4">47</span><span class="c5">63.83 %</span></div>
<div class="tr alt" style="top:235px"><span class="c1">2016</span><span class="c2">$ 58.84</span><span class="c3">2.57</span><span class="c4">47</span><span class="c5">68.09 %</span></div>
</div>
<div class="abs" style="left:1747px;top:91px;width:2px;height:958px;background:#d2d2d2"></div>
<div class="abs" style="left:0;top:1048px;width:1749px;height:1px;background:#cfcfcf"></div>
</body>
</html>
